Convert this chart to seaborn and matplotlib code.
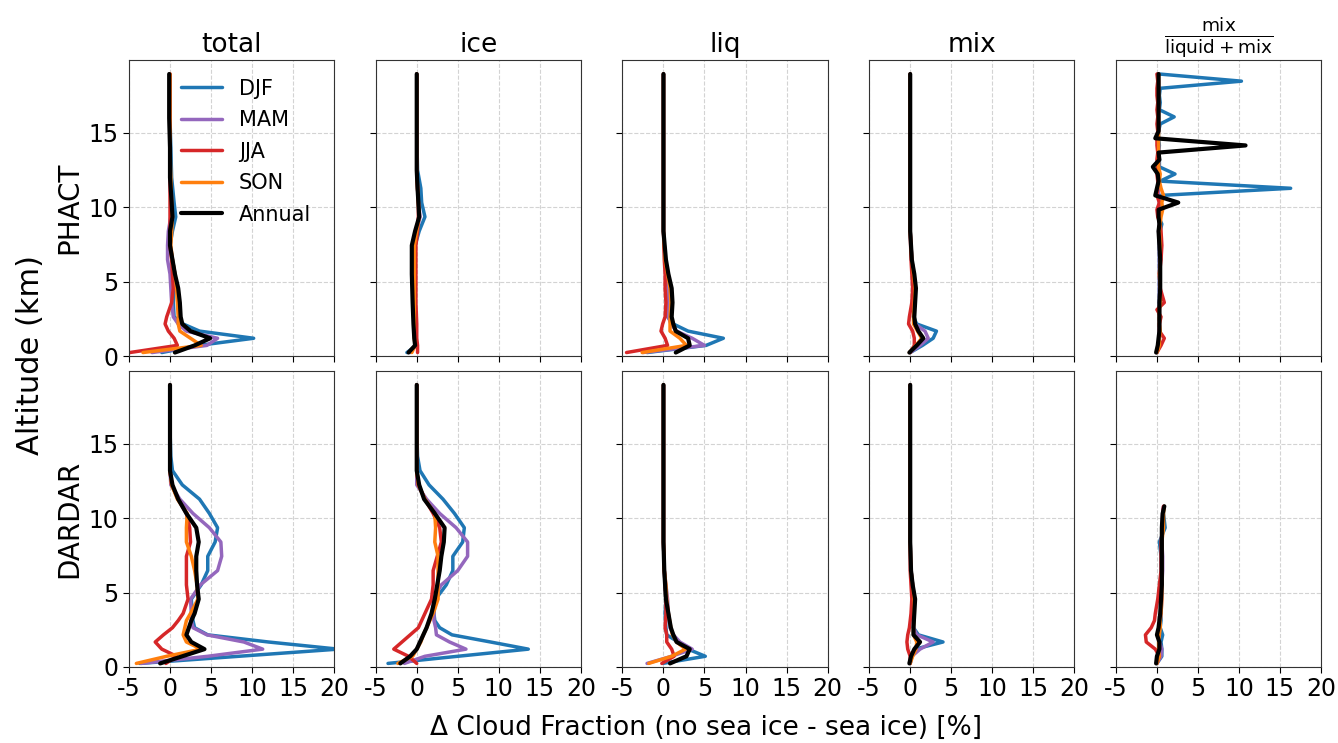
import matplotlib
matplotlib.use("Agg")
import matplotlib.pyplot as plt
import seaborn as sns

# ---- data: altitude (km) and delta cloud fraction (%) per season ----
seasons = ["DJF", "MAM", "JJA", "SON", "Annual"]
colors = ["tab:blue", "tab:purple", "tab:red", "tab:orange", "black"]
col_titles = ["total", "ice", "liq", "mix",
              r"$\frac{\mathrm{mix}}{\mathrm{liquid + mix}}$"]
row_names = ["PHACT", "DARDAR"]

# PHACT total
p_tot_alt = [0.24, 0.72, 1.20, 1.68, 2.16, 2.64, 3.6, 4.56, 5.52, 6.48, 7.44, 8.4, 9.36, 10.32, 12.0, 14.0, 16.0, 18.96]
p_tot_djf = [-1.0, 3.5, 10.2, 3.6, 1.6, 0.5, 0.4, 0.5, 0.6, 0.3, 0.0, 0.3, 0.7, 0.5, 0.2, 0.1, 0.0, 0.0]
p_tot_mam = [-2.2, 4.5, 5.8, 2.0, 1.0, 0.4, 0.2, 0.1, 0.0, -0.3, -0.3, -0.2, 0.1, 0.1, 0.0, 0.0, 0.0, 0.0]
p_tot_jja = [-4.9, 0.9, 0.5, -0.2, -0.6, -0.4, 0.2, 0.4, 0.3, 0.2, 0.0, 0.0, 0.0, 0.0, 0.0, 0.0, 0.0, 0.0]
p_tot_son = [-3.3, 3.8, 2.5, 1.2, 1.0, 1.0, 0.9, 0.8, 0.6, 0.3, 0.1, 0.2, 0.3, 0.2, 0.1, 0.0, 0.0, 0.0]
p_tot_ann = [0.6, 3.0, 4.9, 2.5, 1.5, 1.3, 1.2, 1.0, 0.6, 0.3, 0.0, 0.0, 0.3, 0.2, 0.0, 0.0, -0.1, -0.1]

# PHACT ice
p_ice_alt = [0.24, 0.72, 1.2, 2.16, 3.6, 5.52, 7.44, 8.4, 9.36, 10.32, 11.28, 12.5, 15.0, 18.96]
p_ice_djf = [-1.2, 0.0, -0.2, -0.3, -0.3, -0.3, -0.2, 0.3, 1.0, 0.6, 0.5, 0.1, 0.0, 0.0]
p_ice_mam = [-0.8, -0.1, -0.2, -0.3, -0.4, -0.4, -0.3, 0.0, 0.4, 0.2, 0.1, 0.0, 0.0, 0.0]
p_ice_jja = [0.1, 0.1, 0.0, 0.0, -0.1, -0.1, -0.1, 0.1, 0.2, 0.2, 0.1, 0.0, 0.0, 0.0]
p_ice_son = [-0.6, -0.2, -0.3, -0.3, -0.3, -0.3, -0.3, 0.0, 0.3, 0.2, 0.1, 0.0, 0.0, 0.0]
p_ice_ann = [-1.0, -0.2, -0.3, -0.4, -0.5, -0.6, -0.6, -0.2, 0.3, 0.2, 0.1, 0.0, 0.0, 0.0]

# PHACT liq
p_liq_alt = [0.24, 0.72, 1.2, 1.68, 2.16, 2.64, 3.6, 4.56, 5.52, 6.48, 8.4, 10.5, 18.96]
p_liq_djf = [-2.0, 5.2, 7.3, 3.0, 1.2, 0.5, 0.5, 0.6, 0.4, 0.2, 0.0, 0.0, 0.0]
p_liq_mam = [-2.5, 5.0, 3.5, 1.6, 0.9, 0.6, 0.5, 0.6, 0.4, 0.2, 0.0, 0.0, 0.0]
p_liq_jja = [-4.5, 0.5, 0.2, -0.3, -0.1, 0.2, 0.3, 0.2, 0.2, 0.1, 0.0, 0.0, 0.0]
p_liq_son = [-2.6, 2.8, 2.0, 0.8, 0.8, 0.8, 0.9, 0.8, 0.5, 0.2, 0.0, 0.0, 0.0]
p_liq_ann = [1.5, 3.2, 3.0, 1.5, 1.2, 1.0, 1.1, 1.0, 0.6, 0.3, 0.0, 0.0, 0.0]

# PHACT mix
p_mix_alt = [0.24, 0.72, 1.2, 1.68, 2.16, 2.64, 3.6, 4.56, 5.52, 6.48, 8.4, 18.96]
p_mix_djf = [0.0, 1.5, 2.8, 3.2, 0.8, 0.4, 0.5, 0.6, 0.4, 0.2, 0.0, 0.0]
p_mix_mam = [0.0, 1.2, 2.2, 1.8, 0.6, 0.4, 0.5, 0.6, 0.4, 0.2, 0.0, 0.0]
p_mix_jja = [0.0, 0.5, 0.5, 0.3, -0.2, -0.1, 0.2, 0.3, 0.2, 0.1, 0.0, 0.0]
p_mix_son = [-0.1, 0.7, 1.4, 0.9, 0.4, 0.4, 0.5, 0.6, 0.4, 0.2, 0.0, 0.0]
p_mix_ann = [-0.1, 0.8, 1.6, 1.0, 0.6, 0.5, 0.6, 0.7, 0.5, 0.2, 0.0, 0.0]

# PHACT mix / (liquid + mix)
p_rat_alt = [0.24, 0.72, 1.2, 1.68, 2.16, 2.64, 3.12, 3.6, 4.56, 5.52, 6.48, 7.44, 8.4, 8.88, 9.36, 9.84, 10.32, 10.8,
             11.28, 11.76, 12.24, 12.72, 13.2, 13.68, 14.16, 14.64, 15.12, 15.6, 16.08, 16.56, 17.04, 17.52, 18.0, 18.48, 18.96]
p_rat_djf = [0.0, 0.2, 0.3, 0.3, 0.3, 0.3, 0.3, 0.3, 0.3, 0.3, 0.3, 0.3, 0.4, 0.6, 0.2, 0.3, 0.4, 0.4,
             16.3, 0.4, 2.2, 0.3, 0.3, 0.2, 0.3, 0.2, 0.2, 0.4, 2.1, 0.3, 0.4, 0.3, 0.4, 10.3, 0.3]
p_rat_mam = [0.0, 0.2, 0.3, 0.3, 0.3, 0.3, 0.3, 0.3, 0.3, 0.3, 0.3, 0.3, 0.2, 0.3, 0.2, 0.2, 0.3, 0.2,
             0.2, 0.2, 0.2, 0.2, 0.2, 0.2, 0.2, 0.1, 0.2, 0.2, 0.2, 0.2, 0.2, 0.1, 0.2, 0.2, 0.1]
p_rat_jja = [0.0, 0.5, 0.9, 0.3, 0.3, 0.5, 0.0, 0.9, 0.4, 0.3, 0.5, 0.6, 0.5, 0.4, 0.1, 0.0, 0.3, 0.0,
             0.1, 0.1, 0.0, 0.1, 0.0, 0.1, 0.0, 0.0, 0.1, 0.0, 0.1, 0.0, 0.1, 0.0, 0.0, 0.1, 0.0]
p_rat_son = [0.0, 0.3, 0.3, 0.4, 0.3, 0.3, 0.3, 0.4, 0.4, 0.3, 0.4, 0.4, 0.3, 0.4, 0.5, 0.7, 0.6, 0.8,
             0.5, 0.3, 0.4, 0.2, 0.2, 0.2, 0.2, 0.2, 0.2, 0.2, 0.2, 0.2, 0.2, 0.2, 0.2, 0.2, 0.2]
p_rat_ann = [-0.1, 0.1, 0.2, 0.3, 0.3, 0.3, 0.3, 0.3, 0.4, 0.4, 0.4, 0.3, 0.2, 0.3, 0.2, 0.2, 2.6, -0.2,
             0.0, 0.2, 0.1, -0.5, 0.3, 0.2, 10.8, -0.2, 0.2, 0.2, 0.2, 0.2, 0.2, 0.2, 0.2, 0.2, 0.2]

# DARDAR total
d_alt = [0.24, 0.72, 1.2, 1.68, 2.16, 2.64, 3.12, 3.6, 4.56, 5.52, 6.48, 7.44, 8.4, 9.36, 10.32, 11.28, 12.24, 13.2, 14.16, 16.0, 18.96]
d_tot_djf = [-3.7, 8.4, 20.5, 12.0, 4.6, 3.0, 2.8, 2.7, 2.6, 3.8, 4.6, 4.6, 5.5, 5.8, 4.8, 3.6, 1.5, 0.3, 0.1, 0.0, 0.0]
d_tot_mam = [-3.5, 4.6, 11.3, 9.0, 4.5, 2.8, 2.6, 2.6, 2.5, 3.7, 5.8, 6.3, 6.2, 4.8, 2.8, 1.2, 0.1, 0.0, 0.0, 0.0, 0.0]
d_tot_jja = [-0.5, 0.8, -1.0, -1.8, -0.8, 0.3, 1.0, 1.6, 2.2, 2.0, 2.0, 2.0, 2.5, 2.4, 2.0, 1.0, 0.2, 0.0, 0.0, 0.0, 0.0]
d_tot_son = [-4.1, -0.4, 3.8, 2.0, 1.6, 1.8, 2.0, 2.5, 3.4, 3.3, 3.0, 2.6, 2.0, 2.0, 2.1, 0.9, 0.2, 0.0, 0.0, 0.0, 0.0]
d_tot_ann = [-1.2, 1.5, 4.2, 2.6, 2.0, 2.3, 2.6, 3.0, 3.5, 3.3, 3.2, 3.2, 3.5, 3.2, 2.0, 1.0, 0.3, 0.0, 0.0, 0.0, 0.0]

# DARDAR ice
d_ice_djf = [-3.5, 5.0, 13.6, 9.0, 4.3, 2.8, 2.2, 2.1, 2.3, 3.6, 4.4, 4.4, 5.6, 5.8, 4.6, 3.2, 1.5, 0.4, 0.1, 0.0, 0.0]
d_ice_mam = [-1.5, 1.0, 6.0, 4.0, 2.4, 2.3, 2.1, 2.1, 2.0, 3.0, 5.0, 6.2, 6.2, 4.8, 2.8, 1.2, 0.0, 0.0, 0.0, 0.0, 0.0]
d_ice_jja = [0.0, -1.0, -2.8, -1.8, -0.8, 0.2, 0.6, 1.0, 1.8, 2.0, 2.0, 2.5, 3.0, 2.8, 2.0, 1.0, 0.2, 0.0, 0.0, 0.0, 0.0]
d_ice_son = [-2.3, -0.5, 0.0, 0.5, 0.8, 1.2, 1.6, 2.0, 2.6, 2.6, 2.6, 2.6, 2.2, 2.3, 2.2, 1.0, 0.2, 0.0, 0.0, 0.0, 0.0]
d_ice_ann = [-2.0, -0.8, 0.0, 0.4, 0.8, 1.2, 1.5, 1.8, 2.2, 2.5, 2.8, 3.0, 3.3, 3.4, 2.2, 0.9, 0.3, 0.0, 0.0, 0.0, 0.0]

# DARDAR liq
d_liq_alt = [0.24, 0.72, 1.2, 1.68, 2.16, 2.64, 3.6, 4.56, 5.52, 6.48, 8.4, 18.96]
d_liq_djf = [-0.1, 5.1, 3.0, 1.8, 0.4, 0.3, 0.2, 0.3, 0.2, 0.1, 0.0, 0.0]
d_liq_mam = [-2.0, 1.0, 3.5, 2.0, 1.2, 0.8, 0.6, 0.5, 0.3, 0.1, 0.0, 0.0]
d_liq_jja = [-0.2, 1.3, 1.0, 0.4, 0.4, 0.2, 0.3, 0.3, 0.2, 0.1, 0.0, 0.0]
d_liq_son = [-1.8, 1.0, 2.7, 1.6, 1.1, 0.9, 0.6, 0.4, 0.3, 0.1, 0.0, 0.0]
d_liq_ann = [0.8, 2.8, 3.2, 1.6, 1.2, 0.9, 0.6, 0.3, 0.2, 0.1, 0.0, 0.0]

# DARDAR mix
d_mix_alt = [0.24, 0.72, 1.2, 1.68, 2.16, 2.64, 3.6, 4.56, 5.52, 6.48, 8.4, 18.96]
d_mix_djf = [0.0, 0.2, 0.6, 4.0, 1.0, 0.4, 0.4, 0.5, 0.3, 0.1, 0.0, 0.0]
d_mix_mam = [0.0, 0.2, 1.2, 2.8, 0.8, 0.4, 0.4, 0.5, 0.3, 0.1, 0.0, 0.0]
d_mix_jja = [0.0, 0.0, -0.3, -0.4, -0.3, -0.1, 0.1, 0.2, 0.1, 0.0, 0.0, 0.0]
d_mix_son = [0.0, 0.3, 0.7, 0.8, 0.4, 0.4, 0.5, 0.5, 0.3, 0.1, 0.0, 0.0]
d_mix_ann = [-0.1, 0.1, 0.5, 1.2, 0.4, 0.4, 0.5, 0.6, 0.3, 0.1, 0.0, 0.0]

# DARDAR mix / (liquid + mix)
d_rat_alt = [0.24, 0.72, 1.2, 1.68, 2.16, 2.64, 3.12, 3.6, 4.56, 5.52, 6.48, 7.44, 8.4, 9.36, 10.32, 10.8]
d_rat_djf = [0.0, 0.6, 0.6, 0.5, 0.7, 0.4, 0.5, 0.5, 0.4, 0.5, 0.5, 0.5, 0.3, 1.0, 0.8, 0.9]
d_rat_mam = [0.0, 0.5, 0.6, 0.3, 0.2, 0.3, 0.4, 0.5, 0.6, 0.6, 0.7, 0.7, 0.6, 0.6, 0.7, 0.8]
d_rat_jja = [0.0, 0.3, -0.2, -1.3, -1.4, -0.7, -0.3, -0.2, 0.1, 0.3, 0.5, 0.5, 0.5, 0.7, 0.7, 0.8]
d_rat_son = [0.0, 0.3, 0.2, 0.2, 0.3, 0.4, 0.4, 0.5, 0.6, 0.6, 0.6, 0.6, 0.6, 0.8, 0.8, 0.9]
d_rat_ann = [-0.1, 0.0, 0.3, 0.3, 0.0, 0.2, 0.3, 0.4, 0.5, 0.6, 0.6, 0.6, 0.6, 0.6, 0.7, 0.9]

panels = [
    [(p_tot_alt, [p_tot_djf, p_tot_mam, p_tot_jja, p_tot_son, p_tot_ann]),
     (p_ice_alt, [p_ice_djf, p_ice_mam, p_ice_jja, p_ice_son, p_ice_ann]),
     (p_liq_alt, [p_liq_djf, p_liq_mam, p_liq_jja, p_liq_son, p_liq_ann]),
     (p_mix_alt, [p_mix_djf, p_mix_mam, p_mix_jja, p_mix_son, p_mix_ann]),
     (p_rat_alt, [p_rat_djf, p_rat_mam, p_rat_jja, p_rat_son, p_rat_ann])],
    [(d_alt, [d_tot_djf, d_tot_mam, d_tot_jja, d_tot_son, d_tot_ann]),
     (d_alt, [d_ice_djf, d_ice_mam, d_ice_jja, d_ice_son, d_ice_ann]),
     (d_liq_alt, [d_liq_djf, d_liq_mam, d_liq_jja, d_liq_son, d_liq_ann]),
     (d_mix_alt, [d_mix_djf, d_mix_mam, d_mix_jja, d_mix_son, d_mix_ann]),
     (d_rat_alt, [d_rat_djf, d_rat_mam, d_rat_jja, d_rat_son, d_rat_ann])],
]

# ---- plotting ----
sns.set_style("ticks")
plt.rcParams["font.family"] = ["DejaVu Sans"]
plt.rcParams["axes.unicode_minus"] = False
plt.rcParams.update({"text.color": "black", "axes.labelcolor": "black",
                     "xtick.color": "black", "ytick.color": "black"})

fig, axes = plt.subplots(2, 5, figsize=(13.38, 7.43), dpi=100, sharex=True, sharey=True)
fig.subplots_adjust(left=0.0964, right=0.9873, bottom=0.1023, top=0.9192,
                    wspace=0.203, hspace=0.05)

for r in range(2):
    for c in range(5):
        ax = axes[r, c]
        alt, series = panels[r][c]
        for name, vals, col in zip(seasons, series, colors):
            lw = 3.0 if name == "Annual" else 2.5
            sns.lineplot(x=vals, y=alt, sort=False, estimator=None, color=col,
                         lw=lw, label=name, ax=ax, legend=False)
        ax.grid(True, ls="--", color="lightgray", lw=0.8)
        ax.set_xlim(-5, 20)
        ax.set_ylim(0, 19.9)
        ax.set_xticks([-5, 0, 5, 10, 15, 20])
        ax.set_yticks([0, 5, 10, 15])
        ax.tick_params(labelsize=17, length=4)
        for s in ax.spines.values():
            s.set_color("#333333")
        if r == 0:
            ax.set_title(col_titles[c], fontsize=19)
        if c == 0:
            ax.set_ylabel(row_names[r], fontsize=20)
        else:
            ax.set_ylabel("")

axes[0, 0].legend(loc="upper left", bbox_to_anchor=(0.16, 1.0), frameon=False,
                  fontsize=15, handlelength=2.0, labelspacing=0.55)

fig.text(0.023, 0.522, "Altitude (km)", rotation=90, va="center", ha="center", fontsize=22)
fig.text(0.5277, 0.02, "Δ Cloud Fraction (no sea ice - sea ice) [%]", ha="center",
         va="center", fontsize=19)

fig.savefig("out.png", dpi=100)
